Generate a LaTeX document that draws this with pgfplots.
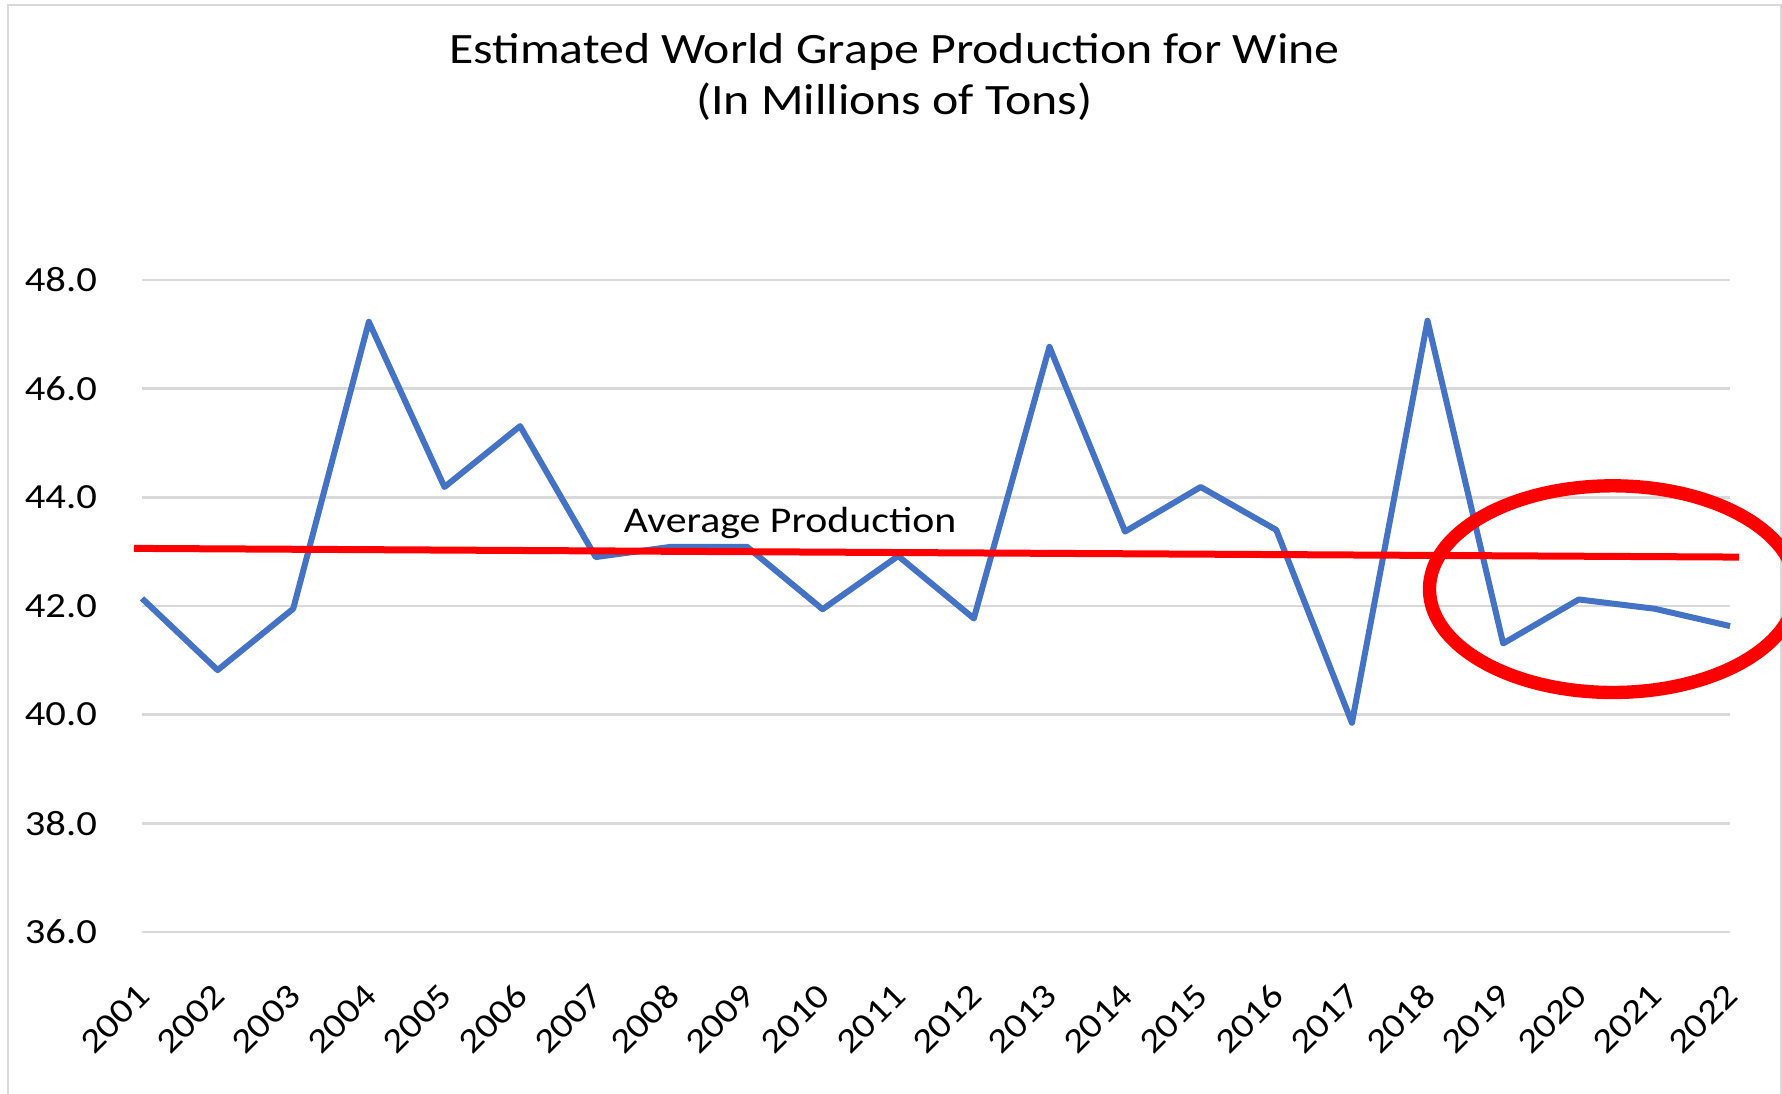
\documentclass[border=0pt]{standalone}
\usepackage{fontspec}
\setmainfont[FakeStretch=1.15]{Carlito}
\usepackage{pgfplots}
\pgfplotsset{compat=1.18}
\definecolor{lineblue}{RGB}{68,114,196}
\definecolor{gridgray}{RGB}{217,217,217}

\begin{document}
\begin{tikzpicture}
\useasboundingbox (-42.6pt,-48.6pt) rectangle (492pt,279.6pt);
% chart area frame (cut off at the bottom)
\draw[gridgray, line width=0.8pt] (-40.2pt,-48.6pt) -- (-40.2pt,278.1pt) -- (491.7pt,278.1pt) -- (491.7pt,-48.6pt);
% title
\node[anchor=base, font=\fontsize{13}{15}\selectfont] at (225.7pt,260.5pt) {Estimated World Grape Production for Wine};
\node[anchor=base, font=\fontsize{13}{15}\selectfont] at (225.7pt,245.1pt) {(In Millions of Tons)};
\begin{axis}[
    scale only axis,
    width=476.4pt, height=195.6pt,
    at={(0pt,0pt)}, anchor=south west,
    xmin=0, xmax=21,
    ymin=36, ymax=48,
    clip=false,
    axis line style={draw=none},
    tick style={draw=none},
    ymajorgrids,
    grid style={gridgray, line width=0.75pt},
    ytick={36,38,40,42,44,46,48},
    xtick={0,...,21},
    xticklabels={2001,2002,2003,2004,2005,2006,2007,2008,2009,2010,2011,
                 2012,2013,2014,2015,2016,2017,2018,2019,2020,2021,2022},
    /pgf/number format/assume math mode=true,
    yticklabel style={/pgf/number format/.cd, fixed, fixed zerofill, precision=1,
                      /tikz/.cd, font=\fontsize{10.6}{12}\selectfont, xshift=-10pt},
    xticklabel style={font=\fontsize{10.4}{12}\selectfont, xshift=3pt, yshift=-15pt,
                      rotate=45, anchor=east},
]
\addplot[lineblue, line width=1.8pt, line join=round, mark=none] coordinates {
    (0,42.14) (1,40.82) (2,41.95) (3,47.23) (4,44.19) (5,45.31) (6,42.90)
    (7,43.09) (8,43.09) (9,41.94) (10,42.92) (11,41.77) (12,46.77) (13,43.37)
    (14,44.19) (15,43.40) (16,39.85) (17,47.25) (18,41.31) (19,42.12)
    (20,41.95) (21,41.63)
};
% average production line
\addplot[red, line width=2.1pt, mark=none] coordinates {(-0.106,43.06) (21.12,42.90)};
\node[anchor=base, font=\fontsize{10.9}{13}\selectfont] at (axis cs:8.57,43.36) {Average Production};
\draw[red, line width=4pt] (axis cs:19.45,42.31) ellipse [x radius=55pt, y radius=31pt];
\end{axis}
\end{tikzpicture}
\end{document}
